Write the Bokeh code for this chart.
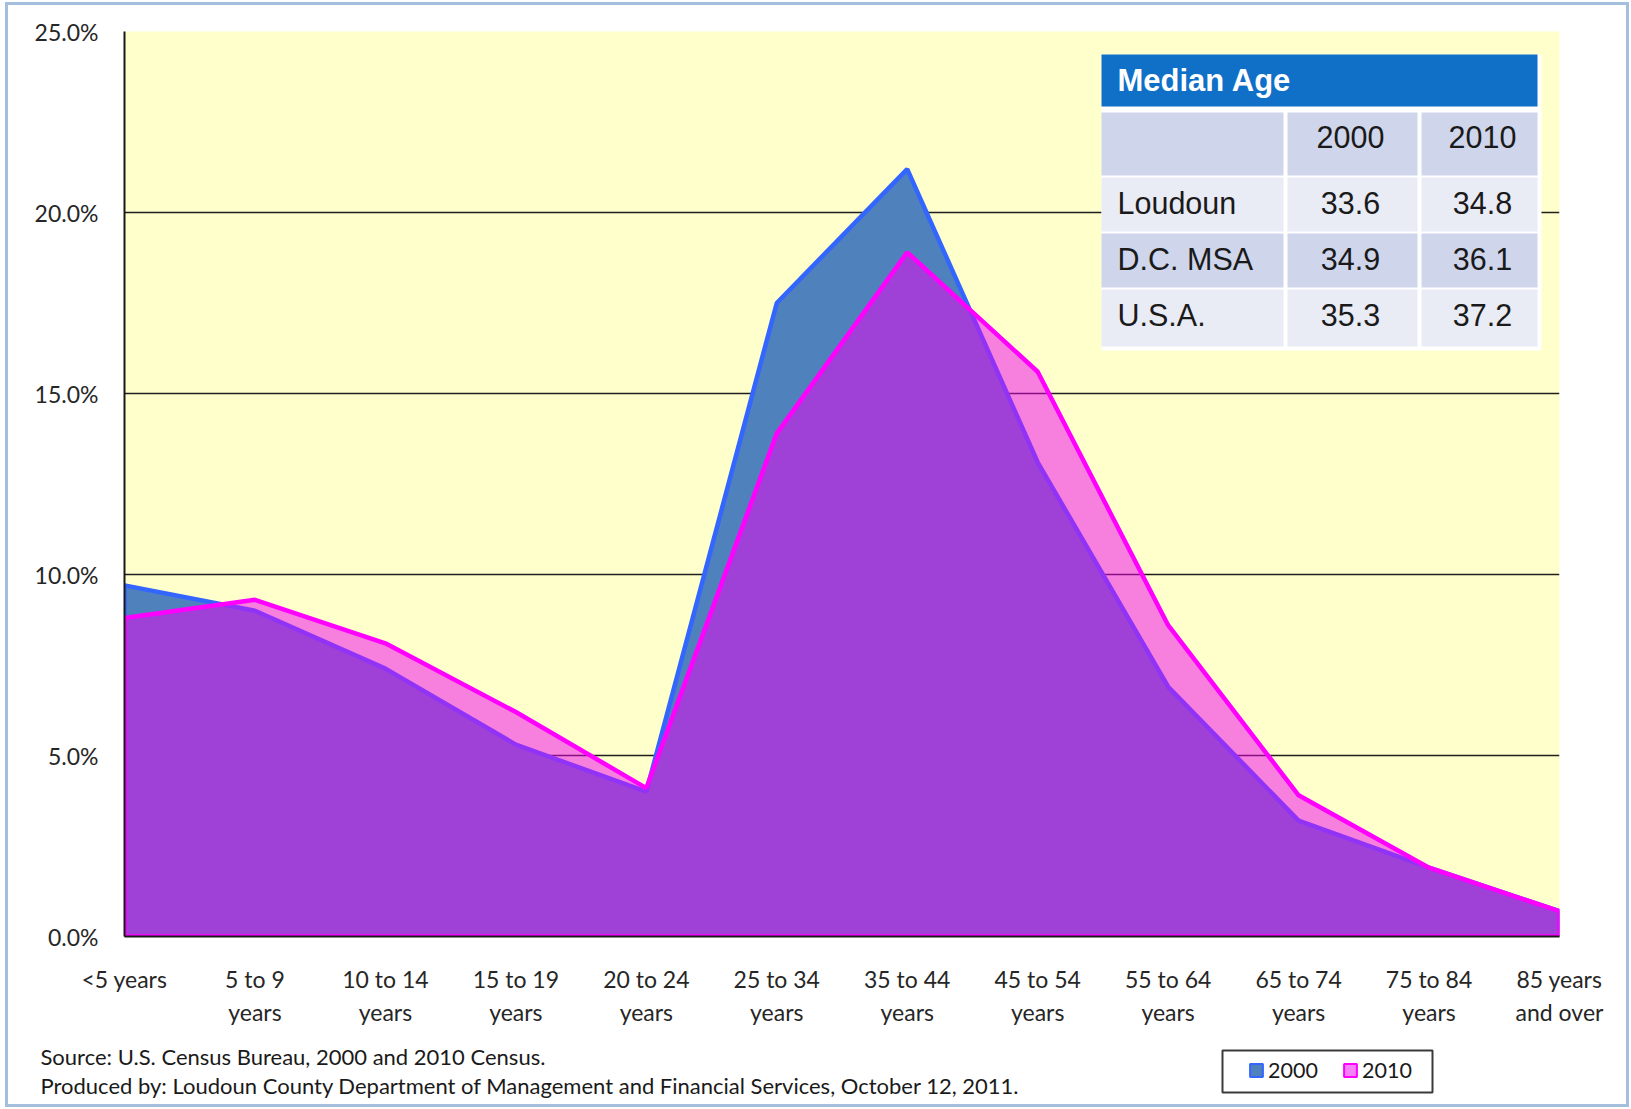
from bokeh.plotting import figure
from bokeh.layouts import column, row
from bokeh.models import (FixedTicker, PrintfTickFormatter, Legend, LegendItem, ColumnDataSource)
from bokeh.core.properties import value
from bokeh.embed import file_html
from bokeh.resources import INLINE

# ---------------- data ----------------
age_groups = ["<5 years", "5 to 9\nyears", "10 to 14\nyears", "15 to 19\nyears",
              "20 to 24\nyears", "25 to 34\nyears", "35 to 44\nyears", "45 to 54\nyears",
              "55 to 64\nyears", "65 to 74\nyears", "75 to 84\nyears", "85 years\nand over"]
pct_2000 = [9.7, 9.0, 7.4, 5.3, 4.0, 17.5, 21.2, 13.1, 6.9, 3.2, 1.9, 0.7]
pct_2010 = [8.8, 9.3, 8.1, 6.2, 4.1, 13.9, 18.9, 15.6, 8.6, 3.9, 1.9, 0.7]
y_ticks = [0, 5, 10, 15, 20, 25]
grid_ticks = [5, 10, 15, 20]
series_labels = ["2000", "2010"]

table_title = "Median Age"
table_years = ["2000", "2010"]
table_areas = ["Loudoun", "D.C. MSA", "U.S.A."]
median_2000 = [33.6, 34.9, 35.3]
median_2010 = [34.8, 36.1, 37.2]

source_note = "Source: U.S. Census Bureau, 2000 and 2010 Census."
producer_note = "Produced by: Loudoun County Department of Management and Financial Services, October 12, 2011."

# ---------------- layout (page pixels) ----------------
OX, OY = 8, 5                 # page position of the content box (inside the border)
W = 1618
H1 = 1035                     # main chart height
H2 = 64                       # footer height
FL, FT, FR, FB = 124, 31, 1559, 936   # frame edges on the page
XMAX = len(age_groups) - 1
YMAX = y_ticks[-1]

C_2000_FILL, C_2000_LINE = "#4F81BD", "#3366FF"
C_2010_FILL, C_2010_LINE = "#F000F0", "#FF00FF"

p = figure(width=W, height=H1, x_range=(0, XMAX), y_range=(0, YMAX),
           output_backend="svg", toolbar_location=None,
           min_border_left=FL - OX, min_border_top=FT - OY,
           min_border_right=OX + W - FR, min_border_bottom=OY + H1 - FB)
p.background_fill_color = "#FFFFCC"
p.border_fill_color = "white"
p.outline_line_color = None

def dx(px):
    return (px - FL) / (FR - FL) * XMAX

def dy(py):
    return (FB - py) / (FB - FT) * YMAX

# ---------------- areas ----------------
xs = list(range(len(age_groups)))

def area_poly(vals):
    return xs + [xs[-1], xs[0]], list(vals) + [0, 0]

ax0, ay0 = area_poly(pct_2000)
p.patch(ax0, ay0, fill_color=C_2000_FILL, fill_alpha=1.0,
        line_color=C_2000_LINE, line_width=4.5)
ax1, ay1 = area_poly(pct_2010)
p.patch(ax1, ay1, fill_color=C_2010_FILL, fill_alpha=0.5,
        line_color=C_2010_LINE, line_width=4.5)

# ---------------- axes & grid ----------------
p.xgrid.grid_line_color = None
p.ygrid.ticker = FixedTicker(ticks=grid_ticks)
p.ygrid.grid_line_color = "#1E1E1E"
p.ygrid.grid_line_width = 1.5

p.yaxis.ticker = FixedTicker(ticks=y_ticks)
p.yaxis.formatter = PrintfTickFormatter(format="%.1f%%")
p.xaxis.ticker = FixedTicker(ticks=xs)
p.xaxis.major_label_overrides = {i: lab for i, lab in enumerate(age_groups)}

for ax in (p.xaxis, p.yaxis):
    ax.axis_line_color = "#1A1A1A"
    ax.axis_line_width = 2
    ax.major_tick_line_color = None
    ax.minor_tick_line_color = None
    ax.major_label_text_font = "Lato"
    ax.major_label_text_font_size = "23px"
    ax.major_label_text_color = "#262626"
p.yaxis.major_label_standoff = 20
p.xaxis.major_label_standoff = 22
p.xaxis.major_label_text_line_height = 1.2

# ---------------- median age table ----------------
p.quad(left=[dx(1101)], right=[dx(1541)], top=[dy(54)], bottom=[dy(350)],
       fill_color="white", line_color=None)
p.quad(left=[dx(1101)], right=[dx(1537)], top=[dy(54)], bottom=[dy(106)],
       fill_color="#106FC6", line_color=None)

row_bounds = [(112, 175), (177, 231), (233, 287), (289, 346)]
row_colors = ["#CFD5EA", "#E9EBF5", "#CFD5EA", "#E9EBF5"]
col_bounds = [(1101, 1283), (1287, 1417), (1421, 1537)]
cells = dict(left=[], right=[], top=[], bottom=[], color=[])
for (t, b), c in zip(row_bounds, row_colors):
    for (l, r) in col_bounds:
        cells["left"].append(dx(l)); cells["right"].append(dx(r))
        cells["top"].append(dy(t)); cells["bottom"].append(dy(b))
        cells["color"].append(c)
p.quad(left="left", right="right", top="top", bottom="bottom", fill_color="color",
       line_color=None, source=ColumnDataSource(cells))

p.text(x=[dx(1117)], y=[dy(80)], text=[table_title], text_font=value("Liberation Sans"),
       text_font_style="bold", text_font_size="31px", text_color="white",
       text_align="left", text_baseline="middle")

col_centers = [1350, 1482]
row_centers = [202, 258, 314]
txt_font = dict(text_font=value("Liberation Sans"), text_font_size="30.5px",
                text_color="#1A1A1A", text_baseline="middle")
hdr = dict(x=[dx(c) for c in col_centers], y=[dy(136)] * 2, text=table_years)
p.text(x="x", y="y", text="text", source=ColumnDataSource(hdr), text_align="center", **txt_font)
names = dict(x=[dx(1117)] * 3, y=[dy(r) for r in row_centers], text=table_areas)
p.text(x="x", y="y", text="text", source=ColumnDataSource(names), text_align="left", **txt_font)
vals = dict(x=[dx(col_centers[0])] * 3 + [dx(col_centers[1])] * 3,
            y=[dy(r) for r in row_centers] * 2,
            text=[f"{v:.1f}" for v in median_2000] + [f"{v:.1f}" for v in median_2010])
p.text(x="x", y="y", text="text", source=ColumnDataSource(vals), text_align="center", **txt_font)

# ---------------- footer: notes + legend ----------------
FOY = OY + H1   # page y of the footer top

def fx(px):
    return px - OX

def fy(py):
    return py - FOY

f = figure(width=W, height=H2, x_range=(0, W), y_range=(H2, 0),
           output_backend="svg", toolbar_location=None,
           min_border_left=0, min_border_right=0, min_border_top=0, min_border_bottom=0)
f.axis.visible = False
f.grid.visible = False
f.outline_line_color = None
f.background_fill_color = "white"
f.border_fill_color = "white"

notes = dict(x=[fx(40), fx(40)], y=[fy(1056), fy(1085)], text=[source_note, producer_note])
f.text(x="x", y="y", text="text", source=ColumnDataSource(notes),
       text_font=value("Lato"), text_font_size="22px", text_color="#1A1A1A",
       text_align="left", text_baseline="middle")

# legend frame
f.quad(left=[fx(1222)], right=[fx(1432)], top=[fy(1050)], bottom=[fy(1092)],
       fill_color="white", line_color="#3A3A3A", line_width=2)

# legend proxies (same series, hidden) so the legend can live in the footer
lg0 = f.patch(ax0, ay0, fill_color=C_2000_FILL, line_color=C_2000_LINE, line_width=2,
              visible=False)
lg1 = f.patch(ax1, ay1, fill_color=C_2010_FILL, fill_alpha=0.5,
              line_color=C_2010_LINE, line_width=2, visible=False)
legend = Legend(items=[LegendItem(label=series_labels[0], renderers=[lg0]),
                       LegendItem(label=series_labels[1], renderers=[lg1])],
                location=(fx(1250) - 2, H2 - fy(1083)), orientation="horizontal",
                padding=8, margin=0, spacing=22, glyph_width=16, glyph_height=16,
                label_standoff=4, label_width=52, label_height=20,
                label_text_font="Lato", label_text_font_size="21.5px",
                label_text_color="#1A1A1A",
                border_line_color=None, background_fill_alpha=0,
                inactive_fill_alpha=0)
f.add_layout(legend)

layout = column(p, row(f), spacing=0,
                styles={"border": "3px solid #A4BEDD", "margin-left": f"{OX - 3}px",
                        "margin-top": f"{OY - 3}px", "width": "fit-content"})

open("out.html", "w").write(file_html(layout, INLINE))
